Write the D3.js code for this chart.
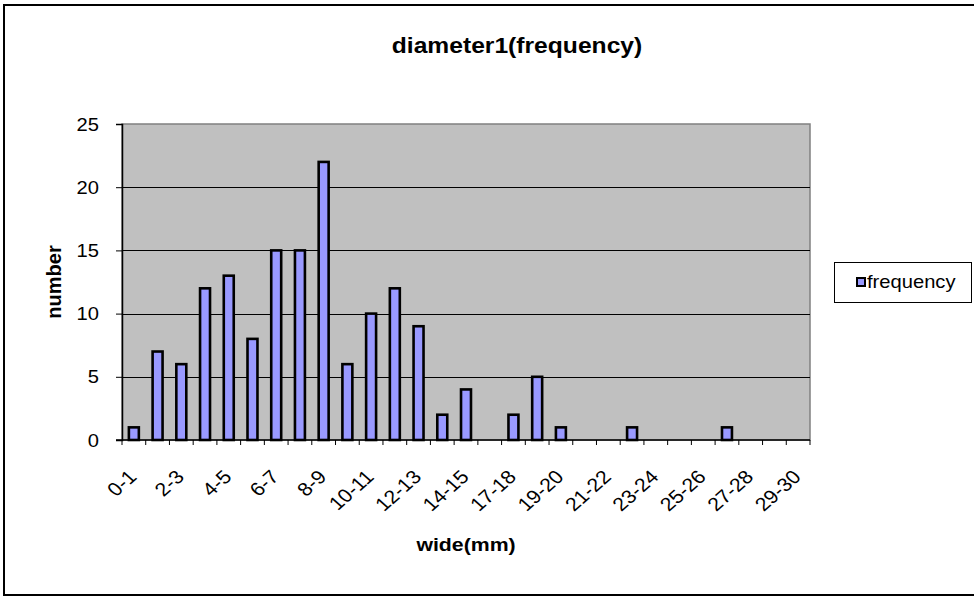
<!DOCTYPE html>
<html>
<head>
<meta charset="utf-8">
<script src="https://cdn.jsdelivr.net/npm/d3@7"></script>
<style>
  body { margin: 0; background: #fff; }
  svg { display: block; font-family: "Liberation Sans", Arial, sans-serif; }
</style>
</head>
<body>
<svg id="chart"></svg>
<script>
// data
var categories = ["0-1","1-2","2-3","3-4","4-5","5-6","6-7","7-8","8-9","9-10",
  "10-11","11-12","12-13","13-14","14-15","15-16","17-18","18-19","19-20","20-21",
  "21-22","22-23","23-24","24-25","25-26","26-27","27-28","28-29","29-30"];
var frequency = [1,7,6,12,13,8,15,15,22,6,10,12,9,2,4,0,2,5,1,0,0,1,0,0,0,1,0,0,0];
var yTicks = [0,5,10,15,20,25];
var seriesName = "frequency";

var width = 974, height = 598;
var plotLeft = 122, plotRight = 810, plotTop = 124, plotBottom = 440;
var sx = 1.12; // text in the picture looks a bit wide

var svg = d3.select('#chart')
    .attr('width', width)
    .attr('height', height);

// outer frame
svg.append('rect')
    .attr('x', 4).attr('y', 5)
    .attr('width', 990).attr('height', 590)
    .attr('fill', '#fff')
    .attr('stroke', '#000')
    .attr('stroke-width', 2);

var x = d3.scaleBand().domain(categories).range([plotLeft, plotRight]);
var xBar = d3.scaleBand().domain(categories).range([plotLeft, plotRight])
    .paddingInner(0.58).paddingOuter(0.29);
var y = d3.scaleLinear().domain([0, 25]).range([plotBottom, plotTop]);

// plot background
svg.append('rect')
    .attr('x', plotLeft).attr('y', plotTop)
    .attr('width', plotRight - plotLeft).attr('height', plotBottom - plotTop)
    .attr('fill', '#c0c0c0')
    .attr('stroke', '#808080')
    .attr('stroke-width', 1.5);

// gridlines
svg.selectAll('.grid').data(yTicks.filter(function(d) { return d > 0 && d < 25; }))
    .enter().append('line')
    .attr('x1', plotLeft).attr('x2', plotRight)
    .attr('y1', function(d) { return Math.round(y(d)) + 0.5; })
    .attr('y2', function(d) { return Math.round(y(d)) + 0.5; })
    .attr('stroke', '#000')
    .attr('stroke-width', 1);

// bars
svg.selectAll('.bar').data(frequency)
    .enter().append('rect')
    .attr('x', function(d, i) { return xBar(categories[i]); })
    .attr('y', function(d) { return y(d); })
    .attr('width', xBar.bandwidth())
    .attr('height', function(d) { return plotBottom - y(d); })
    .attr('fill', '#9999ff')
    .attr('stroke', '#000')
    .attr('stroke-width', 2.6)
    .attr('display', function(d) { return d > 0 ? null : 'none'; });

// y axis
var yAxis = svg.append('g')
    .attr('transform', 'translate(' + plotLeft + ',0)')
    .call(d3.axisLeft(y).tickValues(yTicks).tickSize(6).tickPadding(0).tickFormat(''));
yAxis.select('.domain').attr('stroke', '#000').attr('stroke-width', 1.5);
yAxis.selectAll('.tick line').attr('stroke', '#000');

svg.selectAll('.ylab').data(yTicks)
    .enter().append('text')
    .attr('transform', function(d) { return 'translate(99,' + (y(d) + 6.5) + ') scale(' + sx + ',1)'; })
    .attr('text-anchor', 'end')
    .attr('font-size', 18)
    .text(function(d) { return d; });

// x axis, ticks on the category boundaries
var bounds = categories.map(function(c) { return x(c); }).concat([plotRight]);
svg.append('line')
    .attr('x1', plotLeft - 6).attr('x2', plotRight)
    .attr('y1', plotBottom).attr('y2', plotBottom)
    .attr('stroke', '#000').attr('stroke-width', 1.5);
svg.selectAll('.xtick').data(bounds)
    .enter().append('line')
    .attr('x1', function(d) { return d; }).attr('x2', function(d) { return d; })
    .attr('y1', plotBottom).attr('y2', plotBottom + 5)
    .attr('stroke', '#000');

svg.selectAll('.xlab').data(categories.filter(function(c, i) { return i % 2 === 0; }))
    .enter().append('text')
    .attr('transform', function(d) {
        return 'translate(' + (x(d) + x.bandwidth() / 2 + 4) + ',' + (plotBottom + 38) + ') scale(' + sx + ',1) rotate(-45)';
    })
    .attr('text-anchor', 'end')
    .attr('font-size', 19)
    .text(function(d) { return d; });

// title and axis titles
svg.append('text')
    .attr('transform', 'translate(517,53) scale(' + sx + ',1)')
    .attr('text-anchor', 'middle')
    .attr('font-size', 22)
    .attr('font-weight', 'bold')
    .text('diameter1(frequency)');

svg.append('text')
    .attr('transform', 'translate(466,551) scale(' + sx + ',1)')
    .attr('text-anchor', 'middle')
    .attr('font-size', 19)
    .attr('font-weight', 'bold')
    .text('wide(mm)');

svg.append('text')
    .attr('transform', 'translate(61,' + ((plotTop + plotBottom) / 2) + ') rotate(-90)')
    .attr('text-anchor', 'middle')
    .attr('font-size', 20)
    .attr('font-weight', 'bold')
    .text('number');

// legend
var legend = svg.append('g');
legend.append('rect')
    .attr('x', 834.5).attr('y', 262.5)
    .attr('width', 137).attr('height', 40)
    .attr('fill', '#fff')
    .attr('stroke', '#000');
legend.append('rect')
    .attr('x', 857).attr('y', 278)
    .attr('width', 8).attr('height', 8)
    .attr('fill', '#9999ff')
    .attr('stroke', '#000')
    .attr('stroke-width', 2);
legend.append('text')
    .attr('transform', 'translate(867,288) scale(' + sx + ',1)')
    .attr('font-size', 18)
    .text(seriesName);
</script>
</body>
</html>
